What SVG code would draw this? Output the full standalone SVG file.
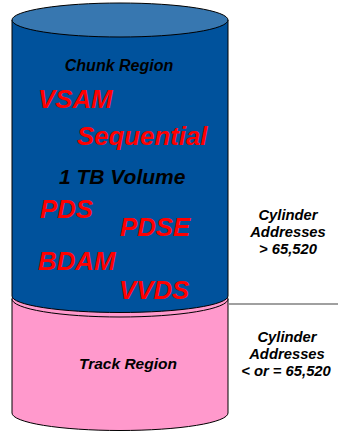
<svg xmlns="http://www.w3.org/2000/svg" width="338" height="432" viewBox="0 0 338 432">
  <style>
    .edge { stroke: #000; stroke-width: 1; }
    .lbl { font-family: "Liberation Sans", Arial, sans-serif; font-weight: bold; font-style: italic; }
    .dark { fill: #000; }
    .red { fill: #ff0000; font-size: 25.8px; }
    .side { font-size: 14.8px; text-anchor: middle; }
  </style>

  <!-- Track region: lower pink cylinder, drawn first so the chunk region sits on top -->
  <g id="track-region">
    <path class="edge" fill="#ff99cc" d="M12,299 L12,413 A108,17.5 0 0 0 228,413 L228,299 Z"/>
    <ellipse class="edge" fill="#ff99cc" cx="120" cy="299" rx="108" ry="18"/>
    <text class="lbl dark" x="79" y="369" font-size="15.5">Track Region</text>
  </g>

  <!-- Chunk region: upper blue cylinder -->
  <g id="chunk-region">
    <path class="edge" fill="#00529c" d="M12,20 L12,296 A108,16.5 0 0 0 228,296 L228,20 Z"/>
    <ellipse class="edge" fill="#3777b0" cx="120" cy="20" rx="108" ry="17"/>
    <text class="lbl dark" x="119" y="70.5" font-size="16" text-anchor="middle">Chunk Region</text>
    <text class="lbl red" x="38" y="107.5">VSAM</text>
    <text class="lbl red" x="77" y="145">Sequential</text>
    <text class="lbl dark" x="59" y="183.5" font-size="21">1 TB Volume</text>
    <text class="lbl red" x="40" y="217.5">PDS</text>
    <text class="lbl red" x="120" y="236">PDSE</text>
    <text class="lbl red" x="38" y="269.5">BDAM</text>
    <text class="lbl red" x="119" y="298.5">VVDS</text>
  </g>

  <!-- Boundary between the two address ranges -->
  <g id="connectors">
    <line x1="228" y1="304" x2="338" y2="304" stroke="#808080" stroke-width="1.5"/>
  </g>

  <g id="upper-addresses">
    <text class="lbl dark side" x="288" y="220">Cylinder</text>
    <text class="lbl dark side" x="288" y="237">Addresses</text>
    <text class="lbl dark side" x="288" y="253.5">&gt; 65,520</text>
  </g>

  <g id="lower-addresses">
    <text class="lbl dark side" x="287" y="342">Cylinder</text>
    <text class="lbl dark side" x="287" y="359">Addresses</text>
    <text class="lbl dark side" x="286" y="375.5">&lt; or = 65,520</text>
  </g>
</svg>
